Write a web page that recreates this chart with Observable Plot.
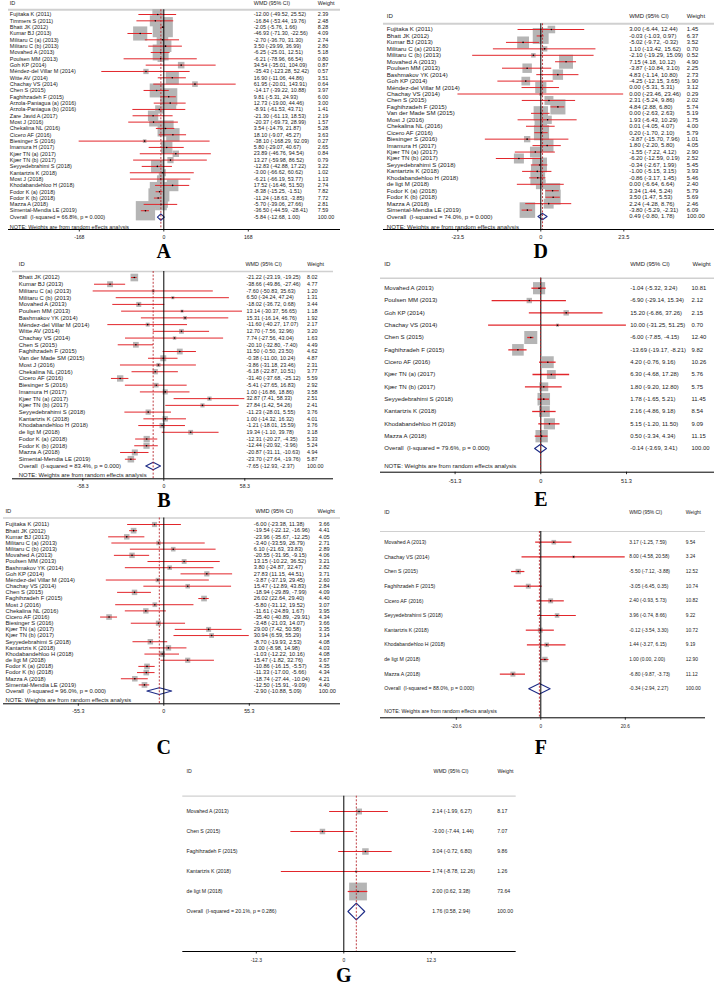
<!DOCTYPE html>
<html><head><meta charset="utf-8">
<script src="https://cdn.jsdelivr.net/npm/d3@7"></script>
<script src="https://cdn.jsdelivr.net/npm/@observablehq/plot@0.6"></script>
<style>
html,body{margin:0;padding:0;background:#fff;}
#page{position:relative;width:714px;height:986px;overflow:hidden;background:#fff;}
</style></head><body><div id="page"></div>
<script>
// ---------- Panel A ----------
const studiesA = ["Fujitaka K (2011)","Timmers S (2011)","Bhatt JK (2012)","Kumar BJ (2013)","Militaru C (a) (2013)","Militaru C (b) (2013)","Movahed A (2013)","Poulsen MM (2013)","Goh KP (2014)","Méndez-del Villar M (2014)","Witte AV (2014)","Chachay VS (2014)","Chen S (2015)","Faghihzadeh F (2015)","Arzola-Paniagua (a) (2016)","Arzola-Paniagua (b) (2016)","Zare Javid A (2017)","Most J (2016)","Chekalina NL (2016)","Cicero AF (2016)","Biesinger S (2016)","Imamura H (2017)","Kjær TN (a) (2017)","Kjær TN (b) (2017)","Seyyedebrahimi S (2018)","Kantartzis K (2018)","Most J (2018)","Khodabandehloo H (2018)","Fodor K (a) (2018)","Fodor K (b) (2018)","Mazza A (2018)","Simental-Mendia LE (2019)"];
const wmdA = [-12.00,-16.84,-2.05,-46.93,-2.70,3.50,-6.25,-6.21,34.54,-35.43,16.90,61.95,-14.17,9.81,12.73,-8.91,-21.30,-20.37,3.54,18.10,-38.10,5.80,23.89,13.27,-12.83,-3.00,-6.21,17.52,-8.38,-11.24,-5.70,-36.50];
const lowerA = [-49.52,-53.44,-5.76,-71.30,-36.70,-29.99,-25.01,-78.96,-35.01,-123.28,-11.06,-20.01,-39.22,-5.31,-19.00,-61.53,-61.13,-69.73,-14.79,-9.07,-168.29,-29.07,-46.76,-59.98,-42.88,-66.62,-66.19,-16.46,-15.25,-18.63,-39.06,-44.59];
const upperA = [25.52,19.76,1.66,-22.56,31.30,36.99,12.51,66.54,104.09,52.42,44.86,143.91,10.88,24.93,44.46,43.71,18.53,28.99,21.87,45.27,92.09,40.67,94.54,86.52,17.22,60.62,53.77,51.50,-1.51,-3.85,27.66,-28.41];
const weightA = [2.39,2.48,8.28,4.09,2.74,2.80,5.18,0.80,0.87,0.57,3.51,0.64,3.97,6.00,3.00,1.41,2.19,1.57,5.28,3.63,0.27,2.65,0.84,0.79,3.22,1.02,1.13,2.74,7.82,7.72,2.81,7.59];
const overallA = [-5.84,-12.68,1.00];
const hetA = "I-squared = 66.8%, p = 0.000";
const ticksA = [-168,0,168];

// ---------- Panel B ----------
const studiesB = ["Bhatt JK (2012)","Kumar BJ (2013)","Militaru C (a) (2013)","Militaru C (b) (2013)","Movahed A (2013)","Poulsen MM (2013)","Bashmakov YK (2014)","Méndez-del Villar M (2014)","Witte AV (2014)","Chachay VS (2014)","Chen S (2015)","Faghihzadeh F (2015)","Van der Made SM (2015)","Most J (2016)","Chekalina NL (2016)","Cicero AF (2016)","Biesinger S (2016)","Imamura H (2017)","Kjær TN (a) (2017)","Kjær TN (b) (2017)","Seyyedebrahimi S (2018)","Kantartzis K (2018)","Khodabandehloo H (2018)","de ligt M (2018)","Fodor K (a) (2018)","Fodor K (b) (2018)","Mazza A (2018)","Simental-Mendia LE (2019)"];
const wmdB = [-21.22,-38.66,-7.60,6.50,-18.02,13.14,15.31,-11.60,12.70,7.74,-20.10,11.50,-0.38,-3.86,-6.18,-31.40,-5.41,1.00,32.87,27.84,-11.23,1.00,-1.21,19.34,-12.31,-12.44,-20.87,-23.70];
const lowerB = [-23.19,-49.86,-50.83,-34.24,-36.72,-30.37,-16.14,-40.27,-7.56,-27.56,-32.80,-0.50,-11.00,-31.18,-22.87,-37.68,-27.65,-16.86,7.41,1.42,-28.01,-14.32,-18.01,-1.10,-20.27,-20.92,-31.11,-27.64];
const upperB = [-19.25,-27.46,35.63,47.24,0.68,56.65,46.76,17.07,32.96,43.04,-7.40,23.50,10.24,23.46,10.51,-25.12,16.83,18.86,58.33,54.26,5.55,16.32,15.59,39.78,-4.35,-3.96,-10.63,-19.76];
const weightB = [8.02,4.77,1.20,1.31,3.44,1.18,1.92,2.17,3.20,1.63,4.49,4.62,4.87,2.31,3.77,5.59,2.92,3.58,2.51,2.41,3.76,4.01,3.76,3.18,5.33,5.24,4.94,5.87];
const overallB = [-7.65,-12.93,-2.37];
const hetB = "I-squared = 83.4%, p = 0.000";
const ticksB = [-58.3,0,58.3];

// ---------- Panel C ----------
const studiesC = ["Fujitaka K (2011)","Bhatt JK (2012)","Kumar BJ (2013)","Militaru C (a) (2013)","Militaru C (b) (2013)","Movahed A (2013)","Poulsen MM (2013)","Bashmakov YK (2014)","Goh KP (2014)","Méndez-del Villar M (2014)","Chachay VS (2014)","Chen S (2015)","Faghihzadeh F (2015)","Most J (2016)","Chekalina NL (2016)","Cicero AF (2016)","Biesinger S (2016)","Kjær TN (a) (2017)","Kjær TN (b) (2017)","Seyyedebrahimi S (2018)","Kantartzis K (2018)","Khodabandehloo H (2018)","de ligt M (2018)","Fodor K (a) (2018)","Fodor K (b) (2018)","Mazza A (2018)","Simental-Mendia LE (2019)"];
const wmdC = [-6.00,-19.54,-23.96,-3.40,6.10,-20.55,13.15,3.80,27.83,-3.87,15.47,-18.94,26.02,-5.80,-11.61,-35.40,-3.48,29.00,30.94,-8.70,3.00,-1.03,15.47,-10.86,-11.33,-18.74,-12.50];
const lowerC = [-23.38,-22.12,-35.67,-33.59,-21.63,-31.95,-10.22,-24.87,11.15,-37.19,-12.89,-29.89,22.64,-31.12,-24.89,-40.89,-21.03,7.42,6.59,-19.93,-8.98,-12.22,-1.82,-16.15,-17.00,-27.44,-15.91];
const upperC = [11.38,-16.96,-12.25,26.79,33.83,-9.15,36.52,32.47,44.51,29.45,43.83,-7.99,29.40,19.52,1.67,-29.91,14.07,50.58,55.29,2.53,14.98,10.16,32.76,-5.57,-5.66,-10.04,-9.09];
const weightC = [3.66,4.41,4.05,2.71,2.89,4.06,3.21,2.82,3.71,2.60,2.84,4.09,4.40,3.07,3.95,4.34,3.66,3.35,3.14,4.08,4.03,4.08,3.67,4.35,4.34,4.21,4.40];
const overallC = [-2.90,-10.88,5.09];
const hetC = "I-squared = 96.0%, p = 0.000";
const ticksC = [-55.3,0,55.3];

// ---------- Panel D ----------
const studiesD = ["Fujitaka K (2011)","Bhatt JK (2012)","Kumar BJ (2013)","Militaru C (a) (2013)","Militaru C (b) (2013)","Movahed A (2013)","Poulsen MM (2013)","Bashmakov YK (2014)","Goh KP (2014)","Méndez-del Villar M (2014)","Chachay VS (2014)","Chen S (2015)","Faghihzadeh F (2015)","Van der Made SM (2015)","Most J (2016)","Chekalina NL (2016)","Cicero AF (2016)","Biesinger S (2016)","Imamura H (2017)","Kjær TN (a) (2017)","Kjær TN (b) (2017)","Seyyedebrahimi S (2018)","Kantartzis K (2018)","Khodabandehloo H (2018)","de ligt M (2018)","Fodor K (a) (2018)","Fodor K (b) (2018)","Mazza A (2018)","Simental-Mendia LE (2019)"];
const wmdD = [3.00,-0.03,-5.02,1.10,-2.10,7.15,-3.87,4.83,-4.25,0.00,0.00,2.31,4.84,0.00,1.93,0.01,0.20,-3.87,1.80,-1.55,-6.20,-0.34,-1.00,-0.86,0.00,3.34,3.50,2.24,-3.80];
const lowerD = [-6.44,-1.03,-9.72,-13.42,-19.29,4.18,-10.84,-1.14,-12.15,-5.31,-23.46,-5.24,2.88,-2.63,-6.43,-4.05,-1.70,-15.70,-2.20,-7.22,-12.59,-2.67,-5.15,-3.17,-6.64,1.44,1.47,-4.28,-5.29];
const upperD = [12.44,0.97,-0.32,15.62,15.09,10.12,3.10,10.80,3.65,5.31,23.46,9.86,6.80,2.63,10.29,4.07,2.10,7.96,5.80,4.12,0.19,1.99,3.15,1.45,6.64,5.24,5.53,8.76,-2.31];
const weightD = [1.45,6.37,3.52,0.70,0.52,4.90,2.25,2.73,1.90,3.12,0.29,2.02,5.74,5.19,1.75,4.00,5.79,1.01,4.05,2.90,2.52,5.45,3.93,5.46,2.40,5.79,5.69,2.46,6.09];
const overallD = [0.49,-0.80,1.78];
const hetD = "I-squared = 74.0%, p = 0.000";
const ticksD = [-23.5,0,23.5];

// ---------- Panel E ----------
const studiesE = ["Movahed A (2013)","Poulsen MM (2013)","Goh KP (2014)","Chachay VS (2014)","Chen S (2015)","Faghihzadeh F (2015)","Cicero AF (2016)","Kjær TN (a) (2017)","Kjær TN (b) (2017)","Seyyedebrahimi S (2018)","Kantartzis K (2018)","Khodabandehloo H (2018)","Mazza A (2018)"];
const wmdE = [-1.04,-6.90,15.20,10.00,-6.00,-13.69,4.20,6.30,1.80,1.78,2.16,5.15,0.50];
const lowerE = [-5.32,-29.14,-6.86,-31.25,-7.85,-19.17,-0.76,-4.68,-9.20,-1.65,-4.86,-1.20,-3.34];
const upperE = [3.24,15.34,37.26,51.25,-4.15,-8.21,9.16,17.28,12.80,5.21,9.18,11.50,4.34];
const weightE = [10.81,2.12,2.15,0.70,12.40,9.82,10.26,5.76,5.75,11.45,8.54,9.09,11.15];
const overallE = [-0.14,-3.69,3.41];
const hetE = "I-squared = 79.6%, p = 0.000";
const ticksE = [-51.3,0,51.3];

// ---------- Panel F ----------
const studiesF = ["Movahed A (2013)","Chachay VS (2014)","Chen S (2015)","Faghihzadeh F (2015)","Cicero AF (2016)","Seyyedebrahimi S (2018)","Kantartzis K (2018)","Khodabandehloo H (2018)","de ligt M (2018)","Mazza A (2018)"];
const wmdF = [3.17,8.00,-5.50,-3.05,2.40,3.96,-0.12,1.44,1.00,-6.80];
const lowerF = [-1.25,-4.58,-7.12,-6.45,-0.93,-0.74,-3.54,-3.27,0.00,-9.87];
const upperF = [7.59,20.58,-3.88,0.35,5.73,8.66,3.30,6.15,2.00,-3.73];
const weightF = [9.54,3.24,12.52,10.74,10.82,9.22,10.72,9.19,12.90,11.12];
const overallF = [-0.34,-2.94,2.27];
const hetF = "I-squared = 88.0%, p = 0.000";
const ticksF = [-20.6,0,20.6];

// ---------- Panel G ----------
const studiesG = ["Movahed A (2013)","Chen S (2015)","Faghihzadeh F (2015)","Kantartzis K (2018)","de ligt M (2018)"];
const wmdG = [2.14,-3.00,3.04,1.74,2.00];
const lowerG = [-1.99,-7.44,-0.72,-8.78,0.62];
const upperG = [6.27,1.44,6.80,12.26,3.38];
const weightG = [8.17,7.07,9.86,1.26,73.64];
const overallG = [1.76,0.58,2.94];
const hetG = "I-squared = 20.1%, p = 0.286";
const ticksG = [-12.3,0,12.3];

const headers = ["ID","WMD (95% CI)","Weight"];
const noteText = "NOTE: Weights are from random effects analysis";

// ---------- layout (pixels) ----------
const panels = [
  {letter:"A", d:[studiesA,wmdA,lowerA,upperA,weightA,overallA,hetA,ticksA], note:true,
   L:0,T:0,W:357,H:262, zero:163.3,tickPx:84.5,row0:14,step:6.33,hdrY:3,hdrLineY:9.3,lineX:[8,340],axX:[8,340],
   noteY:226.7,axisY:229,tickLabY:236.5,letterY:251.5,nameX:9.3,wmdX:253.3,wtX:317.3,hWmdX:253.3,hWtX:317.3,fs:5.5,nfs:5.4,boxK:7,diamH:0.5,lw:1,hdrW:2},
  {letter:"D", d:[studiesD,wmdD,lowerD,upperD,weightD,overallD,hetD,ticksD], note:true,
   L:357,T:0,W:357,H:262, zero:540.3,tickPx:83,row0:29,step:6.45,hdrY:15.7,hdrLineY:23.3,lineX:[383,714],axX:[383,714],
   noteY:226.7,axisY:229,tickLabY:236.5,letterY:251.5,nameX:386.3,wmdX:628.7,wtX:686.3,hWmdX:628.7,hWtX:686.3,fs:6.1,nfs:5.9,boxK:6.3,diamH:0.5,lw:1,hdrW:2},
  {letter:"B", d:[studiesB,wmdB,lowerB,upperB,weightB,overallB,hetB,ticksB], note:true,
   L:0,T:256,W:357,H:249, zero:163.3,tickPx:81,row0:277,step:6.73,hdrY:264,hdrLineY:271,lineX:[12,333],axX:[12,333],
   noteY:474.7,axisY:478.3,tickLabY:486,letterY:500.5,nameX:18.3,wmdX:246,wtX:306.5,hWmdX:245,hWtX:306.7,fs:5.9,nfs:5.4,boxK:2.7,diamH:0.55,lw:1,hdrW:1.5},
  {letter:"E", d:[studiesE,wmdE,lowerE,upperE,weightE,overallE,hetE,ticksE], note:true,
   L:357,T:256,W:357,H:249, zero:540.3,tickPx:85.7,row0:287.7,step:12.33,hdrY:263.3,hdrLineY:277.7,lineX:[380,714],axX:[380,714],
   noteY:465.7,axisY:471.7,tickLabY:481,letterY:498.8,nameX:383.7,wmdX:629.7,wtX:691,hWmdX:629.7,hWtX:692,fs:6.1,nfs:5.9,boxK:3.7,diamH:0.34,lw:1.3,hdrW:1.5},
  {letter:"C", d:[studiesC,wmdC,lowerC,upperC,weightC,overallC,hetC,ticksC], note:true,
   L:0,T:505,W:357,H:255, zero:163.3,tickPx:85.5,row0:524,step:6.17,hdrY:511,hdrLineY:517.5,lineX:[3,340],axX:[3,340],
   noteY:700,axisY:703.3,tickLabY:710.7,letterY:747,nameX:5,wmdX:253.3,wtX:318.3,hWmdX:255,hWtX:317,fs:5.8,nfs:5.6,boxK:2.7,diamH:0.54,lw:1,hdrW:1.5},
  {letter:"F", d:[studiesF,wmdF,lowerF,upperF,weightF,overallF,hetF,ticksF], note:true,
   L:357,T:505,W:357,H:255, zero:540.3,tickPx:84.5,row0:541.7,step:14.66,hdrY:511.7,hdrLineY:531,lineX:[380,705],axX:[380,705],
   noteY:710.7,axisY:717.3,tickLabY:726,letterY:747,nameX:383.7,wmdX:628.7,wtX:685.3,hWmdX:628.7,hWtX:685.3,fs:5.2,nfs:4.9,boxK:1.5,diamH:0.36,lw:1.2,hdrW:1.2},
  {letter:"G", d:[studiesG,wmdG,lowerG,upperG,weightG,overallG,hetG,ticksG], note:false,
   L:150,T:760,W:420,H:226, zero:343.3,tickPx:87.5,row0:811,step:20,hdrY:771,hdrLineY:795.7,lineX:[182.3,515.7],axX:[182.3,515.7],
   noteY:0,axisY:951,tickLabY:960,letterY:975,nameX:186,wmdX:431.7,wtX:496.7,hWmdX:433,hWtX:497,fs:5.2,nfs:5.2,boxK:2.07,diamH:0.42,lw:1.2,hdrW:1.2}
];

const f2 = v => v.toFixed(2);
const ciText = (e, l, h) => `${f2(e)} (${f2(l)}, ${f2(h)})`;
const tickFmt = t => t === 0 ? "0" : String(t);

function forest(c) {
  const [ids, wmd, lo, hi, wt, overall, het, ticks] = c.d;
  const n = ids.length;
  const rowOf = py => (py - c.row0) / c.step;
  const xOf = px => (px - c.zero) * ticks[2] / c.tickPx;
  const rows = ids.map((id, i) => ({id, i, est: wmd[i], lo: lo[i], hi: hi[i], w: wt[i]}));
  const [oe, ol, oh] = overall;
  const dia = [{x: ol, y: n}, {x: oe, y: n - c.diamH}, {x: oh, y: n}, {x: oe, y: n + c.diamH}, {x: ol, y: n}];
  const hdrRow = rowOf(c.hdrY), lineRow = rowOf(c.hdrLineY), axisRow = rowOf(c.axisY);
  const txt = {frameAnchor: "left", textAnchor: "start", fontSize: c.fs, fill: "#1a1a1a"};
  const num = {...txt, fontSize: c.nfs};
  const marks = [
    Plot.ruleY([lineRow], {x1: xOf(c.lineX[0]), x2: xOf(c.lineX[1]), stroke: "#d0d0d0", strokeWidth: c.hdrW}),
    Plot.text([headers[0]], {...txt, y: hdrRow, text: d => d, dx: c.nameX - c.L}),
    Plot.text([headers[1]], {...num, y: hdrRow, text: d => d, dx: c.hWmdX - c.L}),
    Plot.text([headers[2]], {...num, y: hdrRow, text: d => d, dx: c.hWtX - c.L}),
    Plot.dot(rows, {x: "est", y: "i", r: "w", symbol: "square", fill: "#b5b5b5", stroke: "none"}),
    Plot.ruleY(rows, {y: "i", x1: "lo", x2: "hi", stroke: "#e2262b", strokeWidth: c.lw}),
    Plot.dot(rows, {x: "est", y: "i", r: 0.8, fill: "#000", stroke: "none"}),
    Plot.line(dia, {x: "x", y: "y", stroke: "#1d2b86", fill: "#fff", strokeWidth: 1.1}),
    Plot.ruleX([0], {y1: lineRow, y2: axisRow, stroke: "#000", strokeWidth: 1}),
    Plot.ruleX([oe], {y1: lineRow, y2: axisRow, stroke: "#b8282e", strokeWidth: 0.9, strokeDasharray: "2,1.6"}),
    Plot.text(rows, {...txt, y: "i", text: "id", dx: c.nameX - c.L}),
    Plot.text([`Overall\u00a0 (${het})`], {...txt, y: n, text: d => d, dx: c.nameX - c.L}),
    Plot.text(rows, {...num, y: "i", text: r => ciText(r.est, r.lo, r.hi), dx: c.wmdX - c.L}),
    Plot.text([ciText(oe, ol, oh)], {...num, y: n, text: d => d, dx: c.wmdX - c.L}),
    Plot.text(rows, {...num, y: "i", text: r => f2(r.w), dx: c.wtX - c.L}),
    Plot.text(["100.00"], {...num, y: n, text: d => d, dx: c.wtX - c.L}),
    Plot.ruleY([axisRow], {x1: xOf(c.axX[0]), x2: xOf(c.axX[1]), stroke: "#000", strokeWidth: 1}),
    Plot.ruleX(ticks, {y1: axisRow, y2: axisRow + 2.5 / c.step, stroke: "#000", strokeWidth: 0.8}),
    Plot.text(ticks, {x: t => t, y: rowOf(c.tickLabY), text: tickFmt, fontSize: c.nfs * 0.95, fill: "#1a1a1a"}),
    Plot.text([c.letter], {x: 0, y: rowOf(c.letterY), text: d => d, fontSize: 20, fontWeight: "bold",
      fontFamily: "'Liberation Serif', 'Times New Roman', serif", fill: "#000"})
  ];
  if (c.note) marks.push(Plot.text([noteText], {...txt, y: rowOf(c.noteY), text: d => d, dx: c.nameX - c.L}));
  const svg = Plot.plot({
    width: c.W, height: c.H, margin: 0,
    x: {type: "linear", domain: [ticks[0], ticks[2]], range: [c.zero - c.tickPx - c.L, c.zero + c.tickPx - c.L], axis: null},
    y: {type: "linear", domain: [0, 1], range: [c.row0 - c.T, c.row0 + c.step - c.T], axis: null},
    r: {type: "sqrt", domain: [0, 1], range: [0, c.boxK / Math.sqrt(Math.PI)]},
    style: {fontFamily: "'Liberation Sans', Arial, Helvetica, sans-serif", background: "transparent", overflow: "visible"},
    marks
  });
  svg.style.position = "absolute";
  svg.style.left = c.L + "px";
  svg.style.top = c.T + "px";
  return svg;
}

const page = document.getElementById("page");
for (const c of panels) page.appendChild(forest(c));
</script></body></html>
